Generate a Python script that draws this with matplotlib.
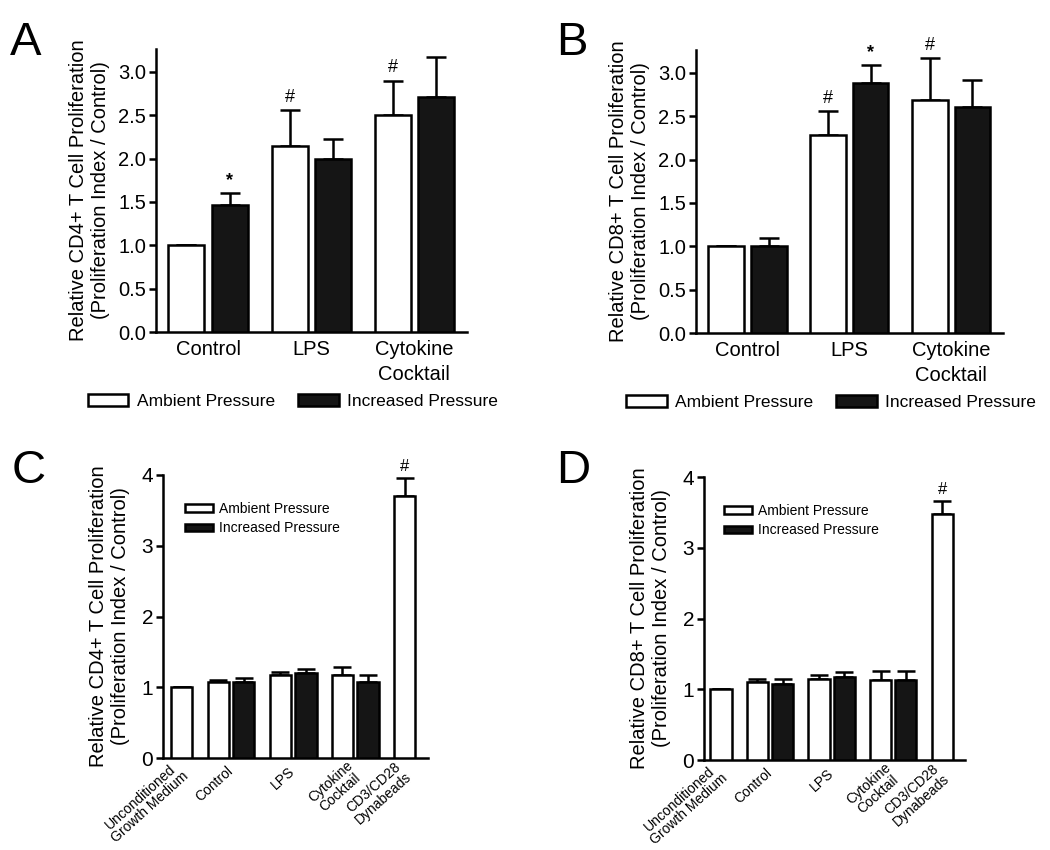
import numpy as np
import matplotlib
matplotlib.use("Agg")
import matplotlib.pyplot as plt
from matplotlib.patches import Patch

plt.rcParams['font.family'] = ['Liberation Sans', 'DejaVu Sans']

# ---- data ----
groups_ab = ["Control", "LPS", "Cytokine\nCocktail"]
series = ["Ambient Pressure", "Increased Pressure"]

a_amb = [1.00, 2.15, 2.50]
a_amb_err = [0.0, 0.41, 0.40]
a_inc = [1.46, 2.00, 2.71]
a_inc_err = [0.14, 0.23, 0.46]
a_amb_mark = ["", "#", "#"]
a_inc_mark = ["*", "", ""]

b_amb = [1.00, 2.29, 2.69]
b_amb_err = [0.0, 0.27, 0.48]
b_inc = [1.00, 2.88, 2.61]
b_inc_err = [0.10, 0.21, 0.31]
b_amb_mark = ["", "#", "#"]
b_inc_mark = ["", "*", ""]

groups_cd = ["Unconditioned\nGrowth Medium", "Control", "LPS",
             "Cytokine\nCocktail", "CD3/CD28\nDynabeads"]
# which series each group has
cd_has_inc = [False, True, True, True, False]

c_amb = [1.00, 1.07, 1.17, 1.17, 3.70]
c_amb_err = [0.0, 0.03, 0.04, 0.11, 0.26]
c_inc = [1.08, 1.20, 1.07]
c_inc_err = [0.05, 0.06, 0.10]
c_amb_mark = ["", "", "", "", "#"]

d_amb = [1.00, 1.10, 1.14, 1.13, 3.48]
d_amb_err = [0.0, 0.04, 0.06, 0.13, 0.18]
d_inc = [1.08, 1.18, 1.13]
d_inc_err = [0.06, 0.07, 0.13]
d_amb_mark = ["", "", "", "", "#"]

BLACK = "#151515"
LW = 1.8


def style_axes(ax, tick_fs):
    for s in ["top", "right"]:
        ax.spines[s].set_visible(False)
    for s in ["left", "bottom"]:
        ax.spines[s].set_linewidth(LW)
    ax.tick_params(axis="y", direction="out", length=5, width=LW,
                   labelsize=tick_fs, pad=2)
    ax.tick_params(axis="x", length=0)


def draw_bars(ax, x, vals, errs, face, width, marks, mark_fs, capsize):
    ax.bar(x, vals, width=width, color=face, edgecolor="black",
           linewidth=LW, zorder=3)
    ax.errorbar(x, vals, yerr=[np.zeros(len(vals)), errs], fmt="none",
                ecolor="black", elinewidth=LW, capsize=capsize,
                capthick=LW, zorder=2)
    for xi, v, e, m in zip(x, vals, errs, marks):
        if m:
            ax.annotate(m, (xi, v + e), xytext=(0, 3),
                        textcoords="offset points", ha="center",
                        va="bottom", fontsize=mark_fs,
                        fontweight="bold" if m == "*" else "normal")


def panel_ab(rect, amb, amb_err, inc, inc_err, amb_mark, inc_mark, cell):
    ax = fig.add_axes(rect)
    x = np.arange(len(groups_ab))
    w = 0.35
    draw_bars(ax, x - 0.21, amb, amb_err, "white", w, amb_mark, 13, 7)
    draw_bars(ax, x + 0.21, inc, inc_err, BLACK, w, inc_mark, 13, 7)
    ax.set_xlim(-0.505, 2.51)
    ax.set_ylim(0, 3.265)
    ax.set_yticks(np.arange(0, 3.01, 0.5))
    ax.set_yticklabels([f"{t:.1f}" for t in np.arange(0, 3.01, 0.5)])
    ax.set_xticks(x)
    ax.set_xticklabels(groups_ab, fontsize=14.5, linespacing=1.35)
    style_axes(ax, 14.5)
    ax.tick_params(axis="x", pad=6)
    ax.set_ylabel(f"Relative {cell}+ T Cell Proliferation\n"
                  "(Proliferation Index / Control)", fontsize=14.5,
                  labelpad=6)
    handles = [Patch(facecolor="white", edgecolor="black", linewidth=LW),
               Patch(facecolor=BLACK, edgecolor="black", linewidth=LW)]
    ax.legend(handles, series, loc="upper center",
              bbox_to_anchor=(0.44, -0.195), ncol=2, frameon=False,
              fontsize=12.5, handlelength=2.35, handleheight=0.6,
              handletextpad=0.5, columnspacing=1.3, borderaxespad=0)
    return ax


def cd_positions():
    # bar centres: step 1.0 inside a group, 1.44 between groups
    amb_x, inc_x = [], []
    pos = 0.0
    for i, has_inc in enumerate(cd_has_inc):
        if i > 0:
            pos += 1.44
        amb_x.append(pos)
        if has_inc:
            pos += 1.0
            inc_x.append(pos)
    return amb_x, inc_x


def panel_cd(rect, amb, amb_err, inc, inc_err, amb_mark, cell, xlim, leg_x):
    ax = fig.add_axes(rect)
    amb_x, inc_x = cd_positions()
    w = 0.84
    draw_bars(ax, amb_x, amb, amb_err, "white", w, amb_mark, 12, 6.5)
    draw_bars(ax, inc_x, inc, inc_err, BLACK, w, [""] * len(inc), 12, 6.5)
    ax.set_xlim(*xlim)
    ax.set_ylim(0, 4)
    ax.set_yticks([0, 1, 2, 3, 4])
    # label at group centre
    centres = []
    j = 0
    for i, has_inc in enumerate(cd_has_inc):
        if has_inc:
            centres.append((amb_x[i] + inc_x[j]) / 2)
            j += 1
        else:
            centres.append(amb_x[i])
    ax.set_xticks(centres)
    ax.set_xticklabels(groups_cd, rotation=42, ha="right", va="center",
                       rotation_mode="anchor", fontsize=10, linespacing=1.0,
                       multialignment="center")
    style_axes(ax, 15)
    ax.tick_params(axis="x", pad=8)
    ax.set_ylabel(f"Relative {cell}+ T Cell Proliferation\n"
                  "(Proliferation Index / Control)", fontsize=14.5,
                  labelpad=8)
    handles = [Patch(facecolor="white", edgecolor="black", linewidth=LW),
               Patch(facecolor=BLACK, edgecolor="black", linewidth=LW)]
    ax.legend(handles, series, loc="upper left",
              bbox_to_anchor=(leg_x, 0.905), frameon=False,
              fontsize=10, handlelength=2.0, handleheight=0.5,
              handletextpad=0.45, labelspacing=0.4, borderaxespad=0,
              borderpad=0)
    return ax


W, H = 1050, 850
fig = plt.figure(figsize=(W / 100, H / 100), dpi=100)


def rect(l, r, t, b):
    return [l / W, 1 - b / H, (r - l) / W, (b - t) / H]


panel_ab(rect(156, 467, 49, 332), a_amb, a_amb_err, a_inc, a_inc_err,
         a_amb_mark, a_inc_mark, "CD4")
panel_ab(rect(696, 1003, 50, 333), b_amb, b_amb_err, b_inc, b_inc_err,
         b_amb_mark, b_inc_mark, "CD8")
panel_cd(rect(163, 428, 475, 758), c_amb, c_amb_err, c_inc, c_inc_err,
         c_amb_mark, "CD4", (-0.73, 9.68), 0.083)
panel_cd(rect(704, 965, 477, 760), d_amb, d_amb_err, d_inc, d_inc_err,
         d_amb_mark, "CD8", (-0.67, 9.66), 0.077)

for letter, (px, py) in zip("ABCD", [(10, 55), (556, 55), (12, 483), (556, 483)]):
    fig.text(px / W, 1 - py / H, letter, fontsize=34, ha="left",
             va="baseline")

fig.savefig("out.png", dpi=100)
